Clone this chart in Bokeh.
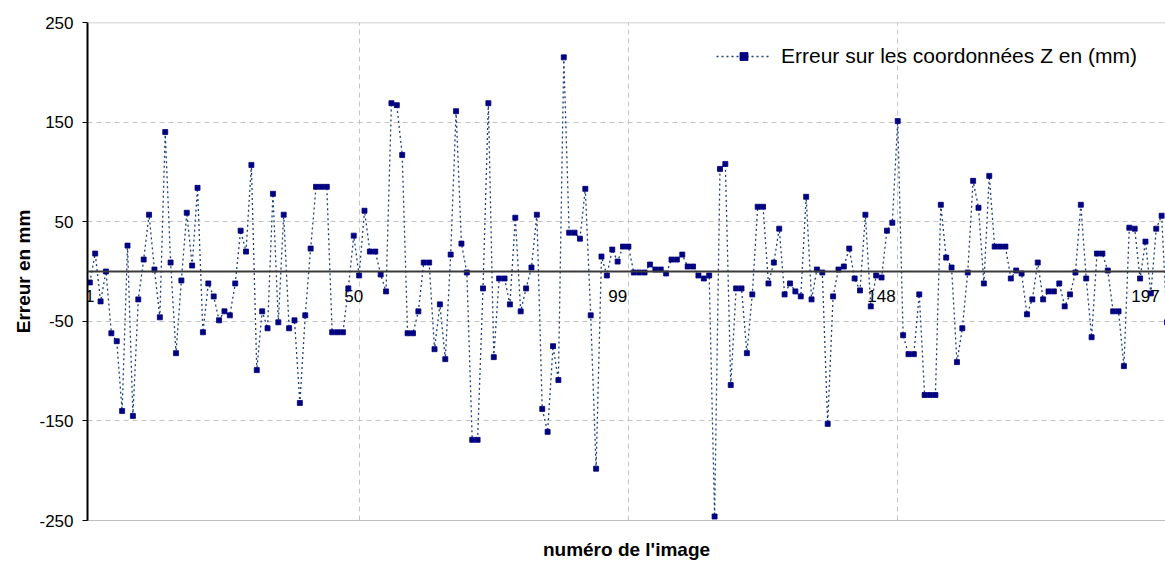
from bokeh.plotting import figure
from bokeh.models import (FixedTicker, Span, Legend, LegendItem, ColumnDataSource,
                          Range1d)
from bokeh.core.properties import value
from bokeh.embed import file_html
from bokeh.resources import INLINE

# ---------------- data ----------------
image_numbers = list(range(1, 202))
z_error_mm = [
    -11, 18, -30, 0, -62, -70, -140, 26, -145, -28,
    12, 57, 2, -46, 140, 9, -82, -9, 59, 6,
    84, -61, -12, -25, -49, -40, -44, -12, 41, 20,
    107, -99, -40, -57, 78, -51, 57, -57, -49, -132,
    -44, 23, 85, 85, 85, -61, -61, -61, -17, 36,
    -4, 61, 20, 20, -3, -20, 169, 167, 117, -62,
    -62, -40, 9, 9, -78, -33, -88, 17, 161, 28,
    -1, -169, -169, -17, 169, -86, -7, -7, -33, 54,
    -40, -17, 4, 57, -138, -161, -75, -109, 215, 39,
    39, 33, 83, -44, -198, 15, -4, 22, 10, 25,
    25, -1, -1, -1, 7, 2, 2, -2, 12, 12,
    17, 5, 5, -4, -7, -4, -246, 103, 108, -114,
    -17, -17, -82, -23, 65, 65, -12, 9, 43, -23,
    -12, -20, -25, 75, -28, 2, -1, -153, -25, 2,
    5, 23, -7, -19, 57, -35, -4, -6, 41, 49,
    151, -64, -83, -83, -23, -124, -124, -124, 67, 14,
    4, -91, -57, -1, 91, 64, -12, 96, 25, 25,
    25, -7, 1, -2, -43, -28, 9, -28, -20, -20,
    -12, -35, -23, -1, 67, -7, -66, 18, 18, 1,
    -40, -40, -95, 44, 43, -7, 30, -22, 43, 56,
    -51,
]
x_tick_labels = [1, 50, 99, 148, 197]
x_grid_ticks = [51, 101, 151]
y_ticks = [-250, -150, -50, 50, 150, 250]

series_label = "Erreur sur les coordonnées Z en (mm)"
x_title = "numéro de l'image"
y_title = "Erreur en mm"

# ---------------- styling ----------------
FONT = "Liberation Sans"
NAVY = "#000080"
LINE_C = "#1c3f78"
GRID_C = "#c4c4c4"

src = ColumnDataSource(data=dict(n=image_numbers, z=z_error_mm))

p = figure(width=1165, height=562, output_backend="svg", toolbar_location=None,
           x_range=Range1d(0.57, 200.72), y_range=Range1d(-250, 250),
           min_border_left=87, min_border_right=0, min_border_top=22,
           min_border_bottom=40)
p.outline_line_color = None
p.background_fill_color = "white"
p.border_fill_color = "white"

# y axis
p.yaxis.ticker = FixedTicker(ticks=y_ticks)
p.yaxis.major_label_overrides = {t: str(t) for t in y_ticks}
p.yaxis.axis_line_color = "black"
p.yaxis.axis_line_width = 2
p.yaxis.major_tick_out = 5
p.yaxis.major_tick_in = 0
p.yaxis.major_tick_line_color = "black"
p.yaxis.minor_tick_line_color = None
p.yaxis.major_label_standoff = 9
p.yaxis.major_label_text_font = FONT
p.yaxis.major_label_text_font_size = "17px"
p.yaxis.major_label_text_color = "black"
p.yaxis.axis_label = y_title
p.yaxis.axis_label_text_font = FONT
p.yaxis.axis_label_text_font_size = "19px"
p.yaxis.axis_label_text_font_style = "bold"
p.yaxis.axis_label_text_color = "black"
p.yaxis.axis_label_standoff = 2

# x axis (bottom) : only the title, labels are drawn on the zero line
p.xaxis.ticker = FixedTicker(ticks=[])
p.xaxis.axis_line_color = "#bfbfbf"
p.xaxis.axis_line_width = 1
p.xaxis.major_tick_out = 0
p.xaxis.major_tick_in = 0
p.xaxis.minor_tick_line_color = None
p.xaxis.major_label_standoff = 0
p.xaxis.axis_label = x_title
p.xaxis.axis_label_text_font = FONT
p.xaxis.axis_label_text_font_size = "19px"
p.xaxis.axis_label_text_font_style = "bold"
p.xaxis.axis_label_text_color = "black"
p.xaxis.axis_label_standoff = 18

# grids
p.ygrid.ticker = FixedTicker(ticks=y_ticks)
p.ygrid.grid_line_color = GRID_C
p.ygrid.grid_line_dash = "5 4"
p.ygrid.grid_line_width = 1
p.xgrid.ticker = FixedTicker(ticks=x_grid_ticks)
p.xgrid.grid_line_color = GRID_C
p.xgrid.grid_line_dash = "5 4"
p.xgrid.grid_line_width = 1

# top border and zero line
p.add_layout(Span(location=250, dimension="width", line_color="#bfbfbf", line_width=1.5))
p.add_layout(Span(location=0, dimension="width", line_color="#3a3a3a", line_width=2))

# category labels sitting under the zero line
lab_src = ColumnDataSource(data=dict(x=x_tick_labels, y=[0] * len(x_tick_labels),
                                     t=[str(v) for v in x_tick_labels]))
p.text(x="x", y="y", text="t", source=lab_src, text_align="center",
       text_baseline="top", y_offset=18, text_font=value(FONT),
       text_font_size="17px", text_color="black")

# series
line_r = p.line(x="n", y="z", source=src, line_color=LINE_C, line_width=1.3,
                line_dash="2 3")
pts_r = p.scatter(x="n", y="z", source=src, marker="square", size=5,
                  fill_color=NAVY, line_color=NAVY, line_width=0.8)

legend = Legend(items=[LegendItem(label=series_label, renderers=[line_r, pts_r])],
                location=(629, 452), orientation="vertical")
legend.padding = 0
legend.margin = 0
legend.spacing = 0
legend.border_line_color = None
legend.background_fill_alpha = 0
legend.glyph_width = 55
legend.glyph_height = 20
legend.label_height = 20
legend.label_standoff = 10
legend.label_text_font = FONT
legend.label_text_font_size = "21px"
legend.label_text_color = "black"
p.add_layout(legend)

open("out.html", "w").write(file_html(p, INLINE))
